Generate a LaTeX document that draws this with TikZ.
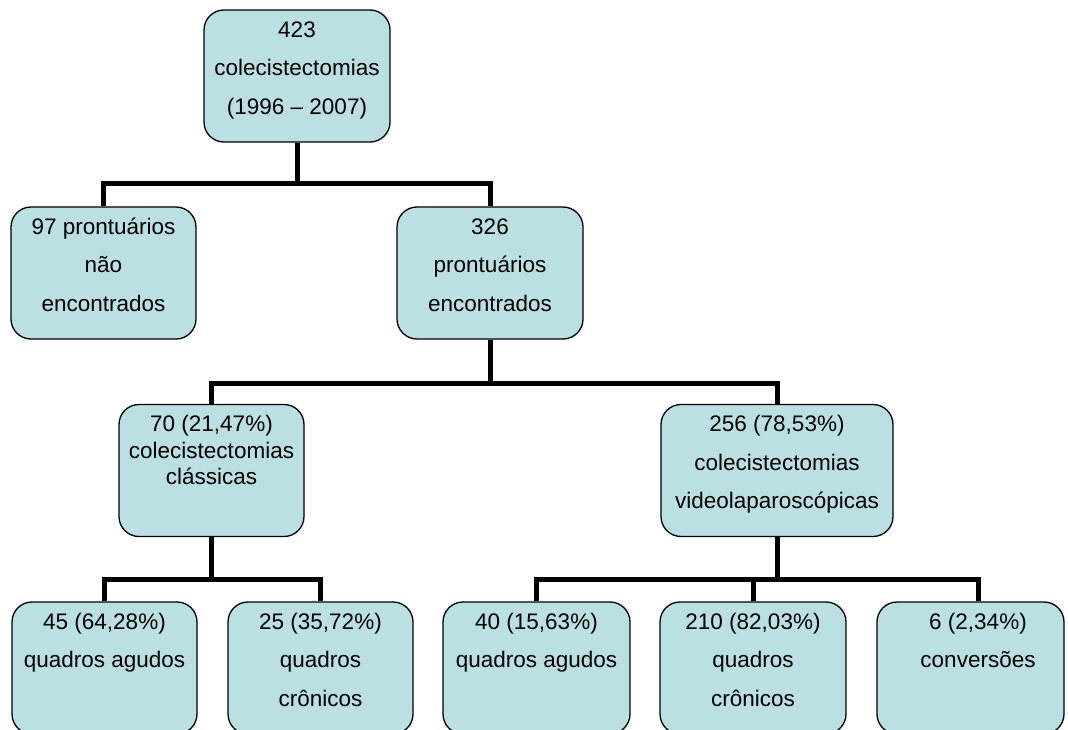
\documentclass[tikz,border=0pt]{standalone}
\usepackage{fontspec}
\setmainfont{Liberation Sans}
\definecolor{boxfill}{RGB}{186,224,227}
\newcommand{\lines}[1]{\begin{tabular}[t]{@{}c@{}}#1\end{tabular}}
\begin{document}
\begin{tikzpicture}[x=1pt,y=-1pt,
  box/.style={draw=black, line width=1.3pt, fill=boxfill, rounded corners=20pt,
              minimum width=185pt, minimum height=132pt, inner sep=0pt},
  txt/.style={anchor=base, inner sep=0pt, font=\fontsize{22.5}{38.5}\selectfont},
  tighttxt/.style={anchor=base, inner sep=0pt, font=\fontsize{22.5}{26.5}\selectfont},
  conn/.style={line width=5pt, line join=miter}]
\useasboundingbox (0,0) rectangle (1068,730);
\fill[white] (0,0) rectangle (1068,730);

% boxes
\node[box, minimum width=186pt] (top)  at (297,76) {};
\node[box] (n97)  at (103.5,273) {};
\node[box, minimum width=186pt] (n326) at (490,273) {};
\node[box] (n70)  at (211.5,470.5) {};
\node[box, minimum width=232pt] (n256) at (777,470.5) {};
\node[box] (n45)  at (104.5,668) {};
\node[box] (n25)  at (320.5,668) {};
\node[box, minimum width=187pt] (n40)  at (536.5,668) {};
\node[box, minimum width=186pt] (n210) at (753,668) {};
\node[box, minimum width=187pt] (n6)   at (970.5,668) {};

% texts
\node[txt] (t-top) at ([yshift=-28pt]top.north) {\lines{423\\colecistectomias\\(1996 – 2007)}};
\node[txt] (t-97)  at ([yshift=-28pt]n97.north) {\lines{97 prontuários\\não\\encontrados}};
\node[txt] (t-326) at ([yshift=-28pt]n326.north) {\lines{326\\prontuários\\encontrados}};
\node[tighttxt] (t-70) at ([yshift=-28pt]n70.north) {\lines{70 (21,47\%)\\colecistectomias\\clássicas}};
\node[txt] (t-256) at ([yshift=-28pt]n256.north) {\lines{256 (78,53\%)\\colecistectomias\\videolaparoscópicas}};
\node[txt] (t-45)  at ([yshift=-28pt]n45.north) {\lines{45 (64,28\%)\\quadros agudos}};
\node[txt] (t-25)  at ([yshift=-28pt]n25.north) {\lines{25 (35,72\%)\\quadros\\crônicos}};
\node[txt] (t-40)  at ([yshift=-28pt]n40.north) {\lines{40 (15,63\%)\\quadros agudos}};
\node[txt] (t-210) at ([yshift=-28pt]n210.north) {\lines{210 (82,03\%)\\quadros\\crônicos}};
\node[txt] (t-6)   at ([xshift=7.5pt,yshift=-28pt]n6.north) {\lines{6 (2,34\%)\\conversões}};

% bus coordinates
\coordinate (b1) at (top.south |- 0,184);
\coordinate (b2) at (n326.south |- 0,383);
\coordinate (b3) at (n70.south |- 0,579);
\coordinate (b4) at (n256.south |- 0,579);

% connectors
\draw[conn] (top.south) -- (b1);
\draw[conn] (n97.north) |- (b1) -| (n326.north);
\draw[conn] (n326.south) -- (b2);
\draw[conn] (n70.north) |- (b2) -| (n256.north);
\draw[conn] (n70.south) -- (b3);
\draw[conn] (n45.north) |- (b3) -| (n25.north);
\draw[conn] (n256.south) -- (b4);
\draw[conn] (n40.north) |- (b4) -| ([xshift=7.5pt]n6.north);
\draw[conn] (n210.north) -- (n210.north |- b4);
\end{tikzpicture}
\end{document}
